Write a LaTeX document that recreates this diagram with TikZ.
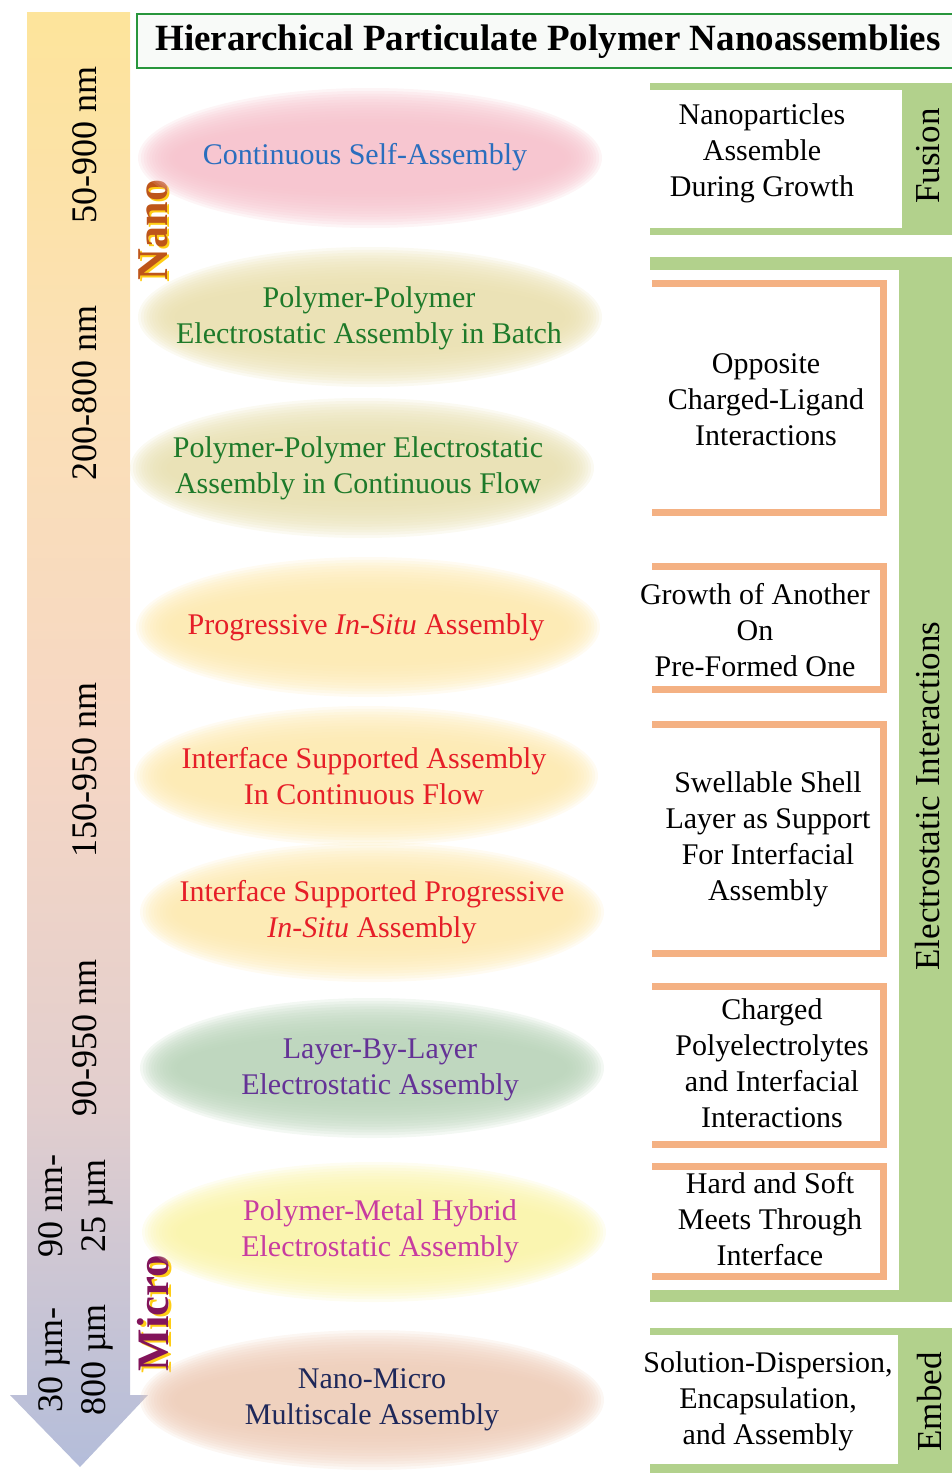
\documentclass[tikz,border=0pt]{standalone}
\usepackage{fontspec}
\setmainfont{Liberation Serif}
\usepackage{tikz}

\definecolor{grnbar}{RGB}{178,209,140}
\definecolor{orgbar}{RGB}{244,177,131}
\definecolor{ttlgreen}{RGB}{40,150,60}
\definecolor{txtblue}{RGB}{42,110,190}
\definecolor{txtgreen}{RGB}{30,122,42}
\definecolor{txtred}{RGB}{230,30,40}
\definecolor{txtpurple}{RGB}{100,50,150}
\definecolor{txtmagenta}{RGB}{200,60,160}
\definecolor{txtnavy}{RGB}{30,40,90}
\definecolor{nanocol}{RGB}{190,85,25}
\definecolor{microcol}{RGB}{130,20,90}
\definecolor{glow}{RGB}{255,205,20}
% blob fills
\definecolor{bpink}{RGB}{246,194,204}
\definecolor{bkhaki}{RGB}{234,224,176}
\definecolor{bkhakitwo}{RGB}{232,224,178}
\definecolor{byellow}{RGB}{253,233,176}
\definecolor{bsage}{RGB}{186,212,186}
\definecolor{blemon}{RGB}{250,244,170}
\definecolor{bpeach}{RGB}{238,205,185}
% scale bar (path is fitted to the 25bp..75bp band)
\definecolor{bartop}{RGB}{253,228,155}
\definecolor{baryel}{RGB}{251,224,182}
\definecolor{barpeach}{RGB}{246,215,196}
\definecolor{barmauve}{RGB}{226,206,206}
\definecolor{barbot}{RGB}{180,189,218}
\pgfdeclareverticalshading{scalebar}{100bp}{color(0bp)=(barbot); color(25bp)=(barbot); color(37.5bp)=(barmauve); color(50bp)=(barpeach); color(62.5bp)=(baryel); color(75bp)=(bartop); color(100bp)=(bartop)}

% soft blob behind a method name: centre, colour
\newcommand{\softblob}[2]{%
  \foreach \k in {0,...,13}
    \fill[#2, opacity=0.17] (#1) ellipse ({232pt-\k*2.8pt} and {70pt-\k*2.8pt});}

\begin{document}
\begin{tikzpicture}[x=1pt,y=-1pt,
  body/.style={inner sep=0pt, align=center, font=\fontsize{30}{36}\selectfont},
  sizelbl/.style={inner sep=0pt, align=center, rotate=90, font=\fontsize{36}{43}\selectfont},
  side/.style={inner sep=0pt, rotate=90, font=\fontsize{35}{40}\selectfont},
  bracket/.style={draw=orgbar, line width=7pt}]
\useasboundingbox (0,0) rectangle (952,1473);

%Scale arrow
\shade [shading=scalebar]
  (27,12) -- (130,12) -- (130,1395) -- (148,1395) -- (80,1467) -- (10,1395) -- (27,1395) -- cycle ;

% Size labels
\node [sizelbl] (r1) at (85,145) {50-900 nm};
\node [sizelbl] (r2) at (85,393) {200-800 nm};
\node [sizelbl] (r3) at (85,770) {150-950 nm};
\node [sizelbl] (r4) at (85,1038) {90-950 nm};
\node [sizelbl] (r5) at (76,1206) {90 nm-\\25 µm};
\node [sizelbl] (r6) at (76,1360) {30 µm-\\800 µm};

% Nano / Micro
\node [rotate=90, inner sep=0pt, text=glow, font=\bfseries\fontsize{44}{44}\selectfont] at (155.5,232) {Nano};
\node [rotate=90, inner sep=0pt, text=nanocol, font=\bfseries\fontsize{44}{44}\selectfont] (nano) at (153,230) {Nano};
\node [rotate=90, inner sep=0pt, text=glow, font=\bfseries\fontsize{45}{45}\selectfont] at (156,1315) {Micro};
\node [rotate=90, inner sep=0pt, text=microcol, font=\bfseries\fontsize{45}{45}\selectfont] (micro) at (153,1313) {Micro};

%Title box
\draw [draw=ttlgreen, line width=2.5pt, fill={rgb,255:red,248;green,250;blue,248}] (137,14) rectangle (960,68) ;
\node [inner sep=0pt, font=\bfseries\fontsize{37}{40}\selectfont] (title) at (548,42) {Hierarchical Particulate Polymer Nanoassemblies};

%Blobs
\softblob{370,158}{bpink}
\softblob{370,317}{bkhaki}
\softblob{362,468}{bkhakitwo}
\softblob{368,627}{byellow}
\softblob{366,776}{byellow}
\softblob{372,912}{byellow}
\softblob{372,1068}{bsage}
\softblob{374,1232}{blemon}
\softblob{372,1400}{bpeach}

% Method names
\node [body, text=txtblue] (csa) at (365,157) {Continuous Self-Assembly};
\node [body, text=txtgreen] (ppb) at (369,318) {Polymer-Polymer\\Electrostatic Assembly in Batch};
\node [body, text=txtgreen] (ppf) at (358,468) {Polymer-Polymer Electrostatic\\Assembly in Continuous Flow};
\node [body, text=txtred] (pis) at (366,627) {Progressive \textit{In-Situ} Assembly};
\node [body, text=txtred] (isa) at (364,776) {Interface Supported Assembly\\In Continuous Flow};
\node [body, text=txtred] (isp) at (372,912) {Interface Supported Progressive\\\textit{In-Situ} Assembly};
\node [body, text=txtpurple] (lbl) at (380,1070) {Layer-By-Layer\\Electrostatic Assembly};
\node [body, text=txtmagenta] (pmh) at (380,1231) {Polymer-Metal Hybrid\\Electrostatic Assembly};
\node [body, text=txtnavy] (nmm) at (372,1400) {Nano-Micro\\Multiscale Assembly};

%Fusion group
\fill [grnbar] (650,83) rectangle (952,90) ;
\fill [grnbar] (902,83) rectangle (952,235) ;
\fill [grnbar] (650,228) rectangle (952,235) ;
\node [side] (fus) at (928,156) {Fusion};
\node [body] (fust) at (762,153) {Nanoparticles\\Assemble\\During Growth};

%Electrostatic group
\fill [grnbar] (650,257) rectangle (952,270) ;
\fill [grnbar] (899,257) rectangle (952,1302) ;
\fill [grnbar] (650,1290) rectangle (952,1302) ;
\node [side] (eli) at (928,796) {Electrostatic Interactions};

%Brackets
\draw [bracket] (652,283) -- (883,283) -- (883,512) -- (652,512) ;
\draw [bracket] (652,566) -- (883,566) -- (883,689) -- (652,689) ;
\draw [bracket] (652,724) -- (883,724) -- (883,953) -- (652,953) ;
\draw [bracket] (652,986) -- (883,986) -- (883,1144) -- (652,1144) ;
\draw [bracket] (652,1166) -- (883,1166) -- (883,1276) -- (652,1276) ;

% Mechanism texts
\node [body] (ocl) at (766,400) {Opposite\\Charged-Ligand\\Interactions};
\node [body] (goa) at (755,630) {Growth of Another\\On\\Pre-Formed One};
\node [body] (sws) at (768,839) {Swellable Shell\\Layer as Support\\For Interfacial\\Assembly};
\node [body] (cpe) at (772,1063) {Charged\\Polyelectrolytes\\and Interfacial\\Interactions};
\node [body] (hsm) at (770,1219) {Hard and Soft\\Meets Through\\Interface};

%Embed group
\fill [grnbar] (650,1328) rectangle (952,1335) ;
\fill [grnbar] (898,1328) rectangle (952,1473) ;
\fill [grnbar] (650,1464) rectangle (952,1473) ;
\node [side] (emb) at (930,1402) {Embed};
\node [body] (sde) at (768,1401) {Solution-Dispersion,\\Encapsulation,\\and Assembly};

\end{tikzpicture}
\end{document}
